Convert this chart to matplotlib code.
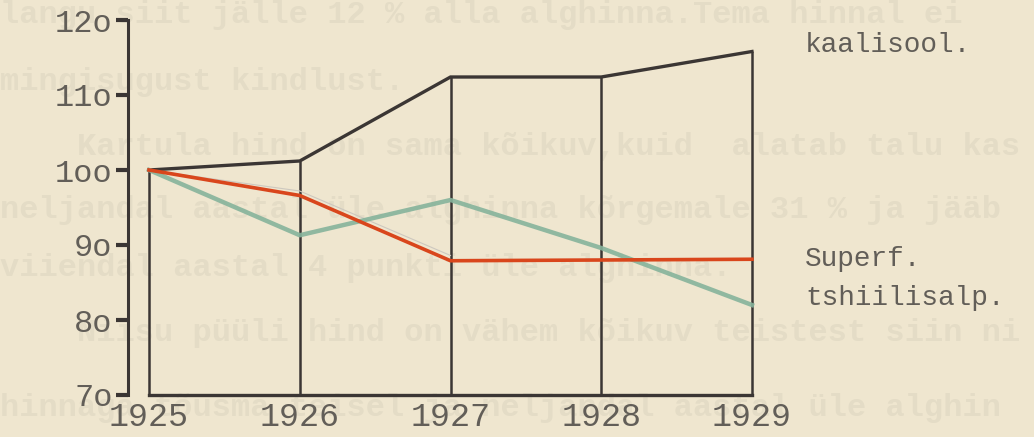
import matplotlib
matplotlib.use('Agg')
import matplotlib.pyplot as plt

# index values (1925 = 100)
years = [1925, 1926, 1927, 1928, 1929]
kaalisool = [100, 101.2, 112.4, 112.4, 115.8]
superf = [100, 96.6, 87.9, 88.0, 88.1]
tshiilisalp = [100, 91.3, 96.0, 89.6, 82.0]
pencil = [100, 97.2, 88.6]

yticks = [70, 80, 90, 100, 110, 120]
ytick_labels = ['7o', '8o', '9o', '1oo', '11o', '12o']
series_labels = ['kaalisool.', 'Superf.', 'tshiilisalp.']

# faint text showing through from the other side of the page
bleed_lines = [
    'langu siit jälle 12 % alla alghinna.Tema hinnal ei',
    'mingisugust kindlust.',
    '    Kartula hind on sama kõikuv,kuid  alatab talu kas',
    'neljandal aastal üle alghinna kõrgemale 31 % ja jääb',
    'viiendal aastal 4 punkti üle alghinna.',
    '    Niisu püüli hind on vähem kõikuv teistest siin ni',
    'hinnaga tõusma teisel ja neljandal aastal üle alghin',
]
bleed_y = [15, 82, 147, 210, 268, 333, 408]

paper = '#efe6cf'
ink = '#3b3634'
typed = '#625e58'
mono = 'Liberation Mono'

fig = plt.figure(figsize=(10.34, 4.37), dpi=100)
fig.patch.set_facecolor(paper)

for txt, yp in zip(bleed_lines, bleed_y):
    fig.text(0.0, 1 - yp / 437, txt, fontsize=23, family=mono, weight='bold',
             color='#e4dcc6', va='center', ha='left', zorder=0)

# axes placed so 1925 sits at x=149px, y-axis spine at x=128px
ax = fig.add_axes([128 / 1034, 42 / 437, 672 / 1034, 375 / 437])
ax.set_zorder(2)
ax.set_facecolor('none')
ax.set_xlim(1925 - 21 / 150.75, 1925 + 651 / 150.75)
ax.set_ylim(70, 120)

for s in ['top', 'right', 'bottom']:
    ax.spines[s].set_visible(False)
ax.spines['left'].set_color(ink)
ax.spines['left'].set_linewidth(2.2)

ax.set_yticks(yticks, ytick_labels)
ax.tick_params(axis='y', length=9, width=3, color=ink, pad=2,
               labelsize=23, labelcolor=typed)
ax.set_xticks(years, [str(y) for y in years])
ax.tick_params(axis='x', length=0, pad=5, labelsize=24, labelcolor=typed)
for lab in ax.get_xticklabels() + ax.get_yticklabels():
    lab.set_family(mono)

# baseline and drop lines of the kaalisool outline
ax.plot([years[0], years[-1]], [70, 70], color=ink, lw=2.4, clip_on=False)
ax.vlines(years, 70, kaalisool, color=ink, lw=1.8)
ax.plot(years, kaalisool, color=ink, lw=2.4, solid_joinstyle='miter')

ax.plot(years[:3], pencil, color='#cdc8bf', lw=0.8)
ax.plot(years, tshiilisalp, color='#86b39b', lw=3.2, alpha=0.9)
ax.plot(years, superf, color='#d9461c', lw=2.6)

offsets = [(53, 6), (53, 0), (53, 7)]
for lab, vals, off in zip(series_labels, [kaalisool, superf, tshiilisalp], offsets):
    ax.annotate(lab, xy=(years[-1], vals[-1]), xytext=off, textcoords='offset pixels',
                fontsize=20, family=mono, color=typed, va='center', ha='left',
                annotation_clip=False)

fig.savefig('out.png', dpi=100, facecolor=paper)
